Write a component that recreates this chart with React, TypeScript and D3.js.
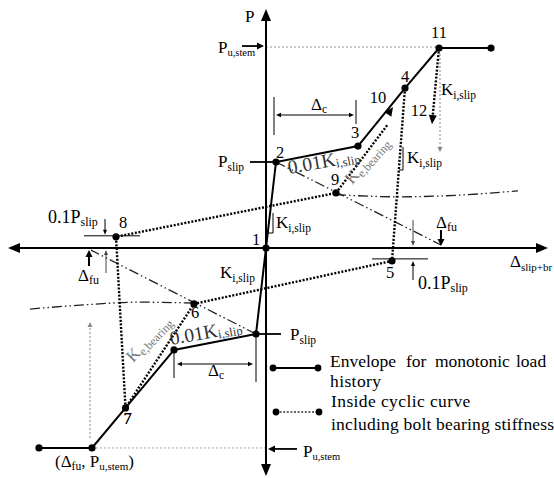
import React from 'react';
import * as d3 from 'd3';

const W = 554;
const H = 478;
const FONT = '"Liberation Serif", "Times New Roman", Times, serif';

type Pt = { id: string; d: number; p: number };

// Monotonic envelope, positive branch (displacement d, load p)
const envelopePos: Pt[] = [
  { id: '1', d: 0, p: 0 },
  { id: '2', d: 0.4, p: 2.0 },
  { id: '3', d: 3.68, p: 2.37 },
  { id: '4', d: 5.56, p: 3.72 },
  { id: '11', d: 6.92, p: 4.65 },
  { id: '', d: 9.0, p: 4.65 },
];

// Monotonic envelope, negative branch
const envelopeNeg: Pt[] = [
  { id: '', d: 0, p: 0 },
  { id: '', d: -0.4, p: -2.0 },
  { id: '', d: -3.68, p: -2.37 },
  { id: '7', d: -5.62, p: -3.72 },
  { id: '', d: -6.96, p: -4.65 },
  { id: '', d: -9.08, p: -4.65 },
];

// Inside cyclic curve with bolt bearing stiffness: 4 -> 5 -> 6 -> 7 -> 8 -> 9 -> 10
const cyclicPath: Pt[] = [
  { id: '4', d: 5.56, p: 3.72 },
  { id: '5', d: 5.04, p: -0.3 },
  { id: '6', d: -2.88, p: -1.3 },
  { id: '7', d: -5.62, p: -3.72 },
  { id: '8', d: -6.0, p: 0.26 },
  { id: '9', d: 2.8, p: 1.28 },
  { id: '10', d: 5.08, p: 3.28 },
];

// Unloading branch from 11 towards 12
const unloadPath: Pt[] = [
  { id: '11', d: 6.92, p: 4.65 },
  { id: '12', d: 6.64, p: 2.88 },
];

// Strength degradation lines from slip load to the fracture displacement
const degradePos: Pt[] = [
  { id: '', d: 0.4, p: 2.0 },
  { id: '', d: 7.0, p: 0.07 },
];
const degradeNeg: Pt[] = [
  { id: '', d: -0.4, p: -2.0 },
  { id: '', d: -7.0, p: -0.05 },
];

// Bearing re-engagement curves
const bearingPos: Pt[] = [
  { id: '', d: 2.8, p: 1.24 },
  { id: '', d: 5.36, p: 1.19 },
  { id: '', d: 7.76, p: 1.23 },
  { id: '', d: 10.08, p: 1.33 },
];
const bearingNeg: Pt[] = [
  { id: '', d: -2.88, p: -1.28 },
  { id: '', d: -5.04, p: -1.26 },
  { id: '', d: -7.44, p: -1.33 },
  { id: '', d: -9.44, p: -1.42 },
];

const markerIds = ['1', '2', '3', '4', '5', '6', '7', '8', '9', '11'];

// Offsets of point number labels (px)
const labelOffset: Record<string, [number, number]> = {
  '1': [-10, -3],
  '2': [4, -4],
  '3': [-3, -8],
  '4': [0, -6],
  '5': [-2, 17],
  '6': [1, 14],
  '7': [2, 16],
  '8': [7, -9],
  '9': [-1, -8],
  '10': [-15, -4],
  '11': [0, -10],
  '12': [-13, -8],
};

const x = d3.scaleLinear().domain([-10.64, 11.52]).range([0, W]);
const y = d3.scaleLinear().domain([5.767, -5.349]).range([0, H]);

const line = d3
  .line<Pt>()
  .x((q) => x(q.d))
  .y((q) => y(q.p));
const curve = d3
  .line<Pt>()
  .x((q) => x(q.d))
  .y((q) => y(q.p))
  .curve(d3.curveMonotoneX);

function head(x1: number, y1: number, x2: number, y2: number, len = 10, half = 4) {
  const a = Math.atan2(y2 - y1, x2 - x1);
  const bx = x2 - len * Math.cos(a);
  const by = y2 - len * Math.sin(a);
  const nx = -Math.sin(a) * half;
  const ny = Math.cos(a) * half;
  return `${x2},${y2} ${bx + nx},${by + ny} ${bx - nx},${by - ny}`;
}

function Arrow({
  x1, y1, x2, y2, w = 1, len = 6, half = 2.5, color = '#000', dash,
}: {
  x1: number; y1: number; x2: number; y2: number; w?: number; len?: number; half?: number; color?: string; dash?: string;
}) {
  const a = Math.atan2(y2 - y1, x2 - x1);
  return (
    <g>
      <line
        x1={x1}
        y1={y1}
        x2={x2 - (len - 1) * Math.cos(a)}
        y2={y2 - (len - 1) * Math.sin(a)}
        stroke={color}
        strokeWidth={w}
        strokeDasharray={dash}
      />
      <polygon points={head(x1, y1, x2, y2, len, half)} fill={color} />
    </g>
  );
}

function Sub({
  x: tx, y: ty, main, sub, size = 17, subSize = 11.5, dy = 4, anchor = 'start', fill = '#000', transform,
}: {
  x: number; y: number; main: string; sub: string; size?: number; subSize?: number; dy?: number;
  anchor?: 'start' | 'middle' | 'end'; fill?: string; transform?: string;
}) {
  return (
    <text x={tx} y={ty} fontSize={size} fill={fill} textAnchor={anchor} transform={transform} fontFamily={FONT}>
      <tspan>{main}</tspan>
      <tspan dy={dy} fontSize={subSize}>
        {sub}
      </tspan>
    </text>
  );
}

const byId = (id: string) =>
  [...envelopePos, ...cyclicPath, ...unloadPath].find((q) => q.id === id) as Pt;

export default function App() {
  const X0 = x(0);
  const Y0 = y(0);
  const p2 = byId('2');
  const p3 = byId('3');
  const p11 = byId('11');
  const p9 = byId('9');
  const p10 = byId('10');
  const p12 = byId('12');
  const n2 = envelopeNeg[1];
  const n3 = envelopeNeg[2];
  const n11 = envelopeNeg[4];
  const p5 = byId('5');
  const p8 = byId('8');

  const markerPts: Pt[] = [];
  markerIds.forEach((id) => {
    const q = [...envelopePos, ...cyclicPath, ...envelopeNeg].find((r) => r.id === id);
    if (q) markerPts.push(q);
  });
  const extraMarkers = [envelopePos[5], n2, n3, n11, envelopeNeg[5]];

  const labelPts: Pt[] = [...envelopePos, ...cyclicPath, ...unloadPath].filter((q) => q.id !== '');
  const seen = new Set<string>();

  const dashDot = '10 3 1.5 3 1.5 3';
  const dotted = '2 1.6';

  return (
    <div style={{ position: 'absolute', left: 0, top: 0 }}>
      <svg width={W} height={H} style={{ display: 'block', background: '#fff' }} fontFamily={FONT}>
        {/* light guide lines at ultimate load */}
        <line x1={X0} y1={y(p11.p) - 1} x2={x(p11.d)} y2={y(p11.p) - 1} stroke="#999" strokeWidth={1} strokeDasharray="2 2" />
        <line x1={x(n11.d)} y1={y(n11.p)} x2={X0} y2={y(n11.p)} stroke="#aaa" strokeWidth={1} strokeDasharray="2 2" />
        <Arrow x1={x(p11.d) + 1} y1={y(p11.p) + 6} x2={x(p11.d) + 1} y2={152} color="#888" dash="2 2" len={5} half={2.5} />
        <Arrow x1={x(n11.d) - 2} y1={y(n11.p) - 10} x2={x(n11.d) - 2} y2={322} color="#888" dash="2 2" len={5} half={2.5} />

        {/* degradation and bearing lines */}
        <path d={line(degradePos) ?? ''} fill="none" stroke="#222" strokeWidth={1.3} strokeDasharray={dashDot} />
        <path d={line(degradeNeg) ?? ''} fill="none" stroke="#222" strokeWidth={1.3} strokeDasharray={dashDot} />
        <path d={curve(bearingPos) ?? ''} fill="none" stroke="#222" strokeWidth={1.3} strokeDasharray={dashDot} />
        <path
          d={curve([...bearingNeg].reverse()) ?? ''}
          fill="none"
          stroke="#222"
          strokeWidth={1.3}
          strokeDasharray={dashDot}
        />

        {/* axes */}
        <line x1={14} y1={Y0} x2={542} y2={Y0} stroke="#000" strokeWidth={2} />
        <polygon points={head(X0, Y0, 548, Y0, 12, 5)} fill="#000" />
        <polygon points={head(X0, Y0, 8, Y0, 12, 5)} fill="#000" />
        <line x1={X0} y1={16} x2={X0} y2={470} stroke="#000" strokeWidth={2} />
        <polygon points={head(X0, Y0, X0, 9, 12, 5)} fill="#000" />
        <polygon points={head(X0, Y0, X0, 476, 12, 5)} fill="#000" />

        {/* inside cyclic curve */}
        <path d={line(cyclicPath.slice(0, 6)) ?? ''} fill="none" stroke="#000" strokeWidth={2.4} strokeDasharray={dotted} />
        <path
          d={line([cyclicPath[5], { id: '', d: p10.d - 0.2, p: p10.p - 0.4 }]) ?? ''}
          fill="none"
          stroke="#000"
          strokeWidth={2.4}
          strokeDasharray={dotted}
        />
        <polygon points={head(x(p9.d), y(p9.p), x(p10.d), y(p10.p), 9, 4)} fill="#000" />
        <path
          d={line([unloadPath[0], { id: '', d: p12.d + 0.03, p: p12.p + 0.2 }]) ?? ''}
          fill="none"
          stroke="#000"
          strokeWidth={2.4}
          strokeDasharray={dotted}
        />
        <polygon points={head(x(p11.d), y(p11.p), x(p12.d), y(p12.p), 9, 4)} fill="#000" />

        {/* monotonic envelope */}
        <path d={line(envelopePos) ?? ''} fill="none" stroke="#000" strokeWidth={2} />
        <path d={line(envelopeNeg) ?? ''} fill="none" stroke="#000" strokeWidth={2} />

        {/* markers */}
        {[...markerPts, ...extraMarkers].map((q, i) => (
          <circle key={i} cx={x(q.d)} cy={y(q.p)} r={3.6} fill="#000" />
        ))}

        {/* point numbers */}
        {labelPts.map((q) => {
          if (seen.has(q.id)) return null;
          seen.add(q.id);
          const o = labelOffset[q.id] ?? [0, 0];
          return (
            <text key={q.id} x={x(q.d) + o[0]} y={y(q.p) + o[1]} fontSize={16.5} textAnchor="middle">
              {q.id}
            </text>
          );
        })}
        <text x={x(envelopeNeg[3].d) + labelOffset['7'][0]} y={y(envelopeNeg[3].p) + labelOffset['7'][1]} fontSize={16.5} textAnchor="middle">
          7
        </text>

        {/* axis titles */}
        <text x={245} y={22} fontSize={17}>P</text>
        <Sub x={510} y={267} main="Δ" sub="slip+br" size={17} subSize={11} />

        {/* P_u,stem annotations */}
        <Arrow x1={242} y1={y(p11.p) - 2} x2={X0 - 2} y2={y(p11.p) - 2} w={1.8} len={7} half={3.5} />
        <Sub x={218} y={53} main="P" sub="u,stem" subSize={10.5} dy={3} />
        <Arrow x1={297} y1={y(n11.p) + 1} x2={X0 + 2} y2={y(n11.p) + 1} w={1.8} len={7} half={3.5} />
        <Sub x={303} y={457} main="P" sub="u,stem" subSize={10.5} dy={3} />
        <text x={55} y={467} fontSize={17}>
          <tspan>(Δ</tspan>
          <tspan dy={3} fontSize={11.5}>fu</tspan>
          <tspan dy={-3}>, P</tspan>
          <tspan dy={3} fontSize={11}>u,stem</tspan>
          <tspan dy={-3}>)</tspan>
        </text>

        {/* P_slip annotations */}
        <line x1={250} y1={y(p2.p)} x2={x(p2.d)} y2={y(p2.p)} stroke="#000" strokeWidth={1.8} />
        <Sub x={218} y={167} main="P" sub="slip" />
        <line x1={x(n2.d)} y1={y(n2.p)} x2={281} y2={y(n2.p)} stroke="#000" strokeWidth={1.8} />
        <Sub x={290} y={340} main="P" sub="slip" />

        {/* Δc dimensions */}
        <line x1={x(p2.d) - 2} y1={97} x2={x(p2.d) - 2} y2={135} stroke="#000" strokeWidth={1} />
        <line x1={x(p3.d) - 2} y1={100} x2={x(p3.d) - 2} y2={124} stroke="#000" strokeWidth={1} />
        <Arrow x1={(x(p2.d) + x(p3.d)) / 2} y1={115} x2={x(p2.d)} y2={115} len={5} half={2.2} />
        <Arrow x1={(x(p2.d) + x(p3.d)) / 2} y1={115} x2={x(p3.d) - 4} y2={115} len={5} half={2.2} />
        <Sub x={311} y={110} main="Δ" sub="c" dy={3} />

        <line x1={x(n3.d)} y1={y(n3.p) + 2} x2={x(n3.d)} y2={378} stroke="#000" strokeWidth={1} />
        <line x1={x(n2.d)} y1={y(n2.p) + 2} x2={x(n2.d)} y2={382} stroke="#000" strokeWidth={1} />
        <Arrow x1={(x(n2.d) + x(n3.d)) / 2} y1={364} x2={x(n3.d) + 3} y2={364} len={5} half={2.2} />
        <Arrow x1={(x(n2.d) + x(n3.d)) / 2} y1={364} x2={x(n2.d) - 3} y2={364} len={5} half={2.2} />
        <Sub x={208} y={376} main="Δ" sub="c" dy={3} />

        {/* stiffness labels */}
        <polyline points={`${X0 + 7},213 ${X0 + 7},233 ${X0 + 2},233`} fill="none" stroke="#000" strokeWidth={1} />
        <Sub x={276} y={228} main="K" sub="i,slip" />
        <Sub x={220} y={278} main="K" sub="i,slip" />
        <polyline points="403,147 403,170 399,170" fill="none" stroke="#000" strokeWidth={1} />
        <Sub x={407} y={163} main="K" sub="i,slip" />
        <Sub x={441} y={95} main="K" sub="i,slip" />

        <Sub x={289} y={174} main="0.01K" sub="i,slip" size={19.5} subSize={12.5} dy={2} fill="#333" transform="rotate(-10 289 174)" />
        <Sub x={171} y={345} main="0.01K" sub="i,slip" size={19.5} subSize={12.5} dy={2} fill="#333" transform="rotate(-10 171 345)" />
        <Sub x={352} y={185} main="K" sub="e,bearing" size={17} subSize={12} dy={3} fill="#777" transform="rotate(-48 352 185)" />
        <Sub x={133} y={363} main="K" sub="e,bearing" size={17} subSize={12} dy={3} fill="#777" transform="rotate(-46 133 363)" />

        {/* 0.1 P_slip and Δfu annotations, left */}
        <line x1={84} y1={y(p8.p) - 1} x2={140} y2={y(p8.p) - 1} stroke="#000" strokeWidth={1} />
        <Arrow x1={105} y1={219} x2={105} y2={y(p8.p) - 2} len={5} half={2} />
        <Arrow x1={106} y1={273} x2={106} y2={Y0 + 2} len={5} half={2} color="#444" />
        <Sub x={48} y={223} main="0.1P" sub="slip" size={18} subSize={12} dy={3} />
        <Arrow x1={89} y1={266} x2={89} y2={Y0 + 2} w={2} len={7} half={3.5} />
        <Sub x={78} y={281} main="Δ" sub="fu" subSize={12} dy={3} />

        {/* 0.1 P_slip and Δfu annotations, right */}
        <line x1={372} y1={y(p5.p) - 2} x2={428} y2={y(p5.p) - 2} stroke="#000" strokeWidth={1} />
        <Arrow x1={413} y1={220} x2={413} y2={Y0 - 2} len={5} half={2} color="#444" />
        <Arrow x1={413} y1={280} x2={413} y2={y(p5.p)} len={5} half={2} />
        <Sub x={418} y={289} main="0.1P" sub="slip" size={18} subSize={12} dy={3} />
        <Arrow x1={441} y1={230} x2={441} y2={Y0 - 2} w={2} len={7} half={3.5} />
        <Sub x={436} y={228} main="Δ" sub="fu" subSize={12} dy={3} />

        {/* legend */}
        <line x1={273} y1={368} x2={318} y2={368} stroke="#000" strokeWidth={2} />
        <circle cx={273} cy={368} r={3.4} fill="#000" />
        <circle cx={318} cy={368} r={3.4} fill="#000" />
        <text y={367} fontSize={17.5}>
          <tspan x={330}>Envelope</tspan>
          <tspan x={406}>for</tspan>
          <tspan x={435}>monotonic</tspan>
          <tspan x={516}>load</tspan>
        </text>
        <text x={330} y={387} fontSize={17.5} letterSpacing={0.4}>history</text>
        <line x1={276} y1={412} x2={319} y2={412} stroke="#333" strokeWidth={1.4} strokeDasharray="2 1.6" />
        <circle cx={276} cy={412} r={3.4} fill="#000" />
        <circle cx={319} cy={412} r={3.4} fill="#000" />
        <text x={331} y={407} fontSize={17.5} letterSpacing={0.4}>Inside cyclic curve</text>
        <text x={331} y={430} fontSize={17.5} letterSpacing={0.2}>including bolt bearing stiffness</text>
      </svg>
    </div>
  );
}
